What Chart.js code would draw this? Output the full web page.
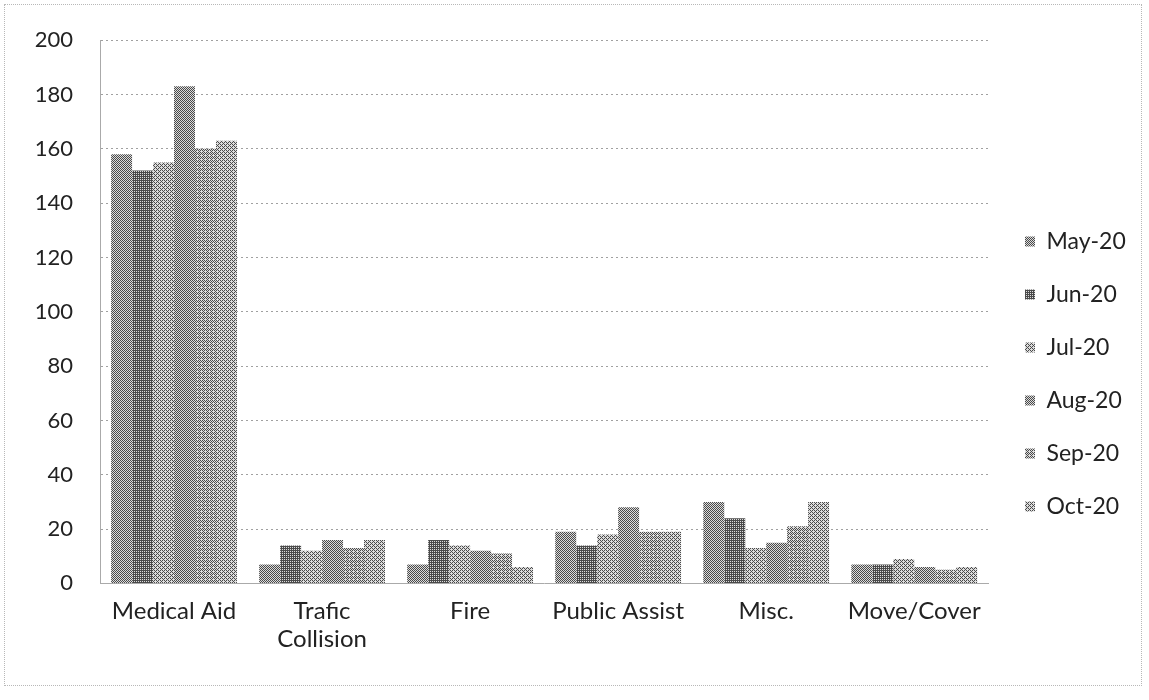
<!DOCTYPE html>
<html>
<head>
<meta charset="utf-8">
<script src="https://cdn.jsdelivr.net/npm/chart.js@4/dist/chart.umd.min.js"></script>
<style>
    body { margin: 0; background: #fff; }
    #wrap { position: relative; width: 1149px; height: 700px; }
    #frame { position: absolute; left: 4px; top: 4px; width: 1136px; height: 680px; border: 1px dotted #b8b8b8; pointer-events: none; }
</style>
</head>
<body>
<div id="wrap">
    <canvas id="callsChart" width="1149" height="700"></canvas>
    <div id="frame"></div>
</div>
<script>
// Call types per month
const categories = ['Medical Aid', ['Trafic', 'Collision'], 'Fire', 'Public Assist', 'Misc.', 'Move/Cover'];
const months = ['May-20', 'Jun-20', 'Jul-20', 'Aug-20', 'Sep-20', 'Oct-20'];

const may20 = [158, 7, 7, 19, 30, 7];
const jun20 = [152, 14, 16, 14, 24, 7];
const jul20 = [155, 12, 14, 18, 13, 9];
const aug20 = [183, 16, 12, 28, 15, 6];
const sep20 = [160, 13, 11, 19, 21, 5];
const oct20 = [163, 16, 6, 19, 30, 6];

const yTicks = [0, 20, 40, 60, 80, 100, 120, 140, 160, 180, 200];

const seriesValues = [may20, jun20, jul20, aug20, sep20, oct20];
// how dark each series' stipple is (0 = white, 1 = all dark dots)
const seriesShade = [0.52, 0.72, 0.40, 0.50, 0.44, 0.38];

const font = "Lato, 'Open Sans', sans-serif";

// ordered dither fill, looks like the photocopied greys of the original
const bayer = [[0, 8, 2, 10], [12, 4, 14, 6], [3, 11, 1, 9], [15, 7, 13, 5]];
function stipple(shade) {
    const c = document.createElement('canvas');
    c.width = 4; c.height = 4;
    const g = c.getContext('2d');
    for (let y = 0; y < 4; y++) {
        for (let x = 0; x < 4; x++) {
            g.fillStyle = (bayer[y][x] + 0.5) / 16 < shade ? '#4a4a4a' : '#dcdcdc';
            g.fillRect(x, y, 1, 1);
        }
    }
    return g.createPattern(c, 'repeat');
}

const ctx = document.getElementById('callsChart').getContext('2d');

// legend sits a bit lower and further right than chart.js puts it
const legendShift = {
    id: 'legendShift',
    beforeDraw(chart) {
        const lg = chart.legend;
        if (!lg || lg._shifted) return;
        const dy = 374 - (lg.top + lg.bottom) / 2;
        const dx = 995 - lg.left;
        lg.top += dy; lg.bottom += dy;
        lg.left += dx; lg.right += dx;
        lg._shifted = true;
    }
};

const callsChart = new Chart(ctx, {
    type: 'bar',
    data: {
        labels: categories,
        datasets: months.map((m, i) => ({
            label: m,
            data: seriesValues[i],
            backgroundColor: stipple(seriesShade[i]),
            borderWidth: 0,
            categoryPercentage: 0.85,
            barPercentage: 1.0
        }))
    },
    options: {
        responsive: false,
        animation: false,
        layout: {
            padding: { left: 30, top: 12, right: 20, bottom: 41 }
        },
        scales: {
            x: {
                grid: { display: false },
                border: { display: true, color: '#aaa', dash: [2, 3] },
                ticks: {
                    color: '#222',
                    font: { family: font, size: 24 },
                    padding: 5,
                    maxRotation: 0,
                    autoSkip: false
                }
            },
            y: {
                min: 0,
                max: 200,
                afterFit: scale => { scale.width = 70; },
                afterBuildTicks: scale => { scale.ticks = yTicks.map(v => ({ value: v })); },
                grid: { color: '#a0a0a0', drawTicks: false },
                border: { display: true, color: '#aaa', dash: [2, 3] },
                ticks: {
                    color: '#222',
                    font: { family: font, size: 22 },
                    padding: 27
                }
            }
        },
        plugins: {
            legend: {
                position: 'right',
                labels: {
                    color: '#222',
                    font: { family: font, size: 23 },
                    boxWidth: 10,
                    boxHeight: 10,
                    padding: 30
                }
            },
            tooltip: { enabled: false }
        }
    },
    plugins: [legendShift]
});
</script>
</body>
</html>
